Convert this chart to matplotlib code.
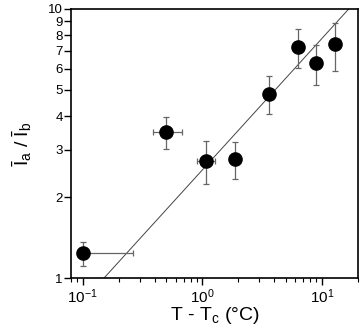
import matplotlib
matplotlib.use('Agg')
import matplotlib.pyplot as plt
import numpy as np
from matplotlib.ticker import FixedLocator, NullFormatter, LogLocator

plt.rcParams['font.family'] = ['Liberation Sans', 'DejaVu Sans']
plt.rcParams['mathtext.fontset'] = 'custom'
plt.rcParams['mathtext.rm'] = 'Liberation Sans'
plt.rcParams['mathtext.it'] = 'Liberation Sans'

# données
dT = [0.1, 0.5, 1.07, 1.89, 3.61, 6.27, 8.92, 12.8]
ratio = [1.235, 3.48, 2.73, 2.76, 4.83, 7.22, 6.28, 7.39]
ratio_haut = [1.365, 3.96, 3.24, 3.20, 5.64, 8.45, 7.37, 8.85]
ratio_bas = [1.11, 3.01, 2.23, 2.33, 4.06, 6.05, 5.22, 5.90]
dT_gauche = [0.1, 0.39, 0.91, 1.89, 3.61, 6.27, 8.92, 12.8]
dT_droite = [0.266, 0.678, 1.27, 1.89, 3.61, 6.27, 8.92, 12.8]

# ajustement en loi de puissance
fit_A = 2.52
fit_n = 0.489

yticks = [1, 2, 3, 4, 5, 6, 7, 8, 9, 10]
xticks = [0.1, 1, 10]
xticklabels = [r'$10^{-1}$', r'$10^{0}$', r'$10^{1}$']

fig = plt.figure(figsize=(3.63, 3.33), dpi=100)
ax = fig.add_axes([0.1956, 0.165, 0.7904, 0.808])

ax.set_xscale('log')
ax.set_yscale('log')

x = np.array(dT)
y = np.array(ratio)
yerr = [y - np.array(ratio_bas), np.array(ratio_haut) - y]
xerr = [x - np.array(dT_gauche), np.array(dT_droite) - x]

# droite d'ajustement
xf = np.logspace(-1.2, 1.5, 50)
ax.plot(xf, fit_A * xf ** fit_n, color='#444444', linewidth=0.7, zorder=1)

ax.errorbar(x, y, yerr=yerr, xerr=xerr, fmt='o', color='black',
            markersize=9.5, ecolor='#666666', elinewidth=0.9,
            capsize=2.5, capthick=0.9, zorder=3)

ax.set_xlim(0.08, 20)
ax.set_ylim(1, 10)

ax.yaxis.set_major_locator(FixedLocator(yticks))
ax.set_yticklabels([str(t) for t in yticks])
ax.yaxis.set_minor_locator(FixedLocator([]))
ax.yaxis.set_minor_formatter(NullFormatter())

ax.xaxis.set_major_locator(FixedLocator(xticks))
ax.set_xticklabels(xticklabels)
ax.xaxis.set_minor_locator(LogLocator(base=10, subs=np.arange(2, 10)))
ax.xaxis.set_minor_formatter(NullFormatter())

ax.tick_params(axis='x', which='major', direction='out', length=5,
               width=1, labelsize=11, pad=2)
ax.tick_params(axis='y', which='major', direction='out', length=5,
               width=1, labelsize=9.5, pad=1)
ax.tick_params(axis='both', which='minor', direction='out', length=3, width=0.8)

for s in ax.spines.values():
    s.set_linewidth(1.2)

ax.set_xlabel(r'T - T$_{\mathrm{c}}$ ($\degree$C)', fontsize=14, labelpad=-1)
ax.set_ylabel(r'$\bar{\mathrm{I}}_{\mathrm{a}}\ /\ \bar{\mathrm{I}}_{\mathrm{b}}$', fontsize=14, labelpad=10)

fig.savefig('out.png', dpi=100)
plt.close(fig)
